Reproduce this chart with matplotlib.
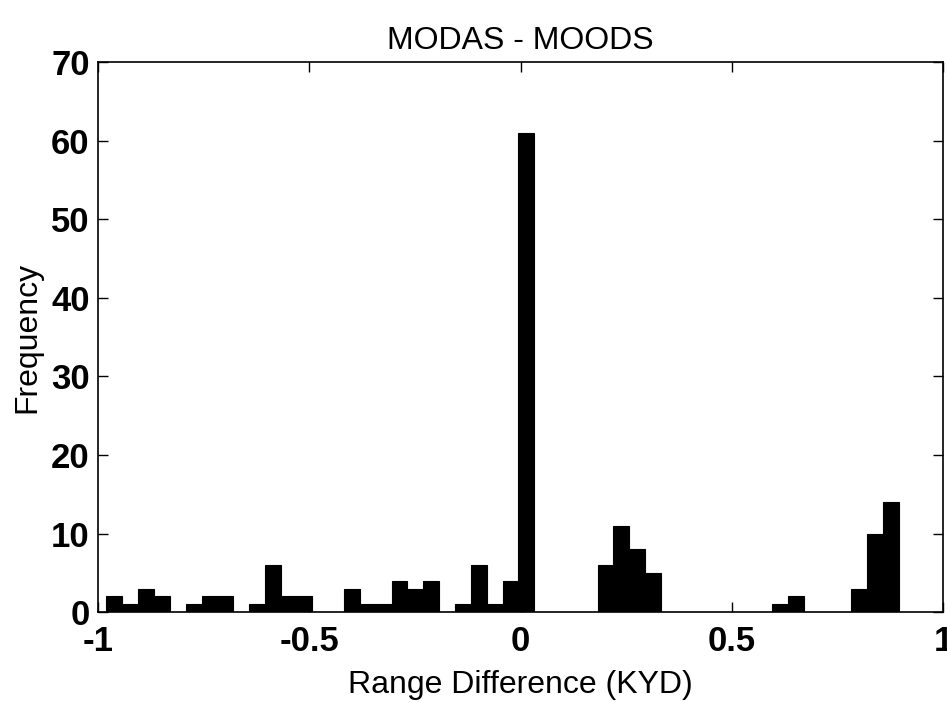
import numpy as np
import matplotlib
matplotlib.use("Agg")
import matplotlib.pyplot as plt

# histogram of range differences, 50 bins between data min and max
bin_lo = -0.98
bin_hi = 0.895
counts = [2, 1, 3, 2, 0, 1, 2, 2, 0, 1,
          6, 2, 2, 0, 0, 3, 1, 1, 4, 3,
          4, 0, 1, 6, 1, 4, 61, 0, 0, 0,
          0, 6, 11, 8, 5, 0, 0, 0, 0, 0,
          0, 0, 1, 2, 0, 0, 0, 3, 10, 14]
xticks = [-1, -0.5, 0, 0.5, 1]
xtick_labels = ["-1", "-0.5", "0", "0.5", "1"]
yticks = [0, 10, 20, 30, 40, 50, 60, 70]

plt.rcParams['font.family'] = ['Liberation Sans', 'DejaVu Sans']
plt.rcParams['axes.unicode_minus'] = False

edges = np.linspace(bin_lo, bin_hi, len(counts) + 1)
width = edges[1] - edges[0]

fig = plt.figure(figsize=(9.47, 7.02), dpi=100)
ax = fig.add_axes([0.1035, 0.128, 0.8923, 0.7837])

ax.bar(edges[:-1], counts, width=width, align='edge',
       color='black', edgecolor='black', linewidth=0.8)

ax.set_xlim(-1, 1)
ax.set_ylim(0, 70)
ax.set_xticks(xticks)
ax.set_xticklabels(xtick_labels)
ax.set_yticks(yticks)
ax.tick_params(direction='in', length=7, width=1, top=True, right=True,
               labelsize=25)
ax.tick_params(axis='x', pad=9)
ax.tick_params(axis='y', pad=6)
for lbl in ax.get_xticklabels() + ax.get_yticklabels():
    lbl.set_fontweight('bold')
for s in ax.spines.values():
    s.set_linewidth(1.2)

ax.set_title('MODAS - MOODS', fontsize=23, pad=9)
ax.set_xlabel('Range Difference (KYD)', fontsize=23, labelpad=9)
ax.set_ylabel('Frequency', fontsize=23, labelpad=6)

fig.savefig('out.png', dpi=100)
